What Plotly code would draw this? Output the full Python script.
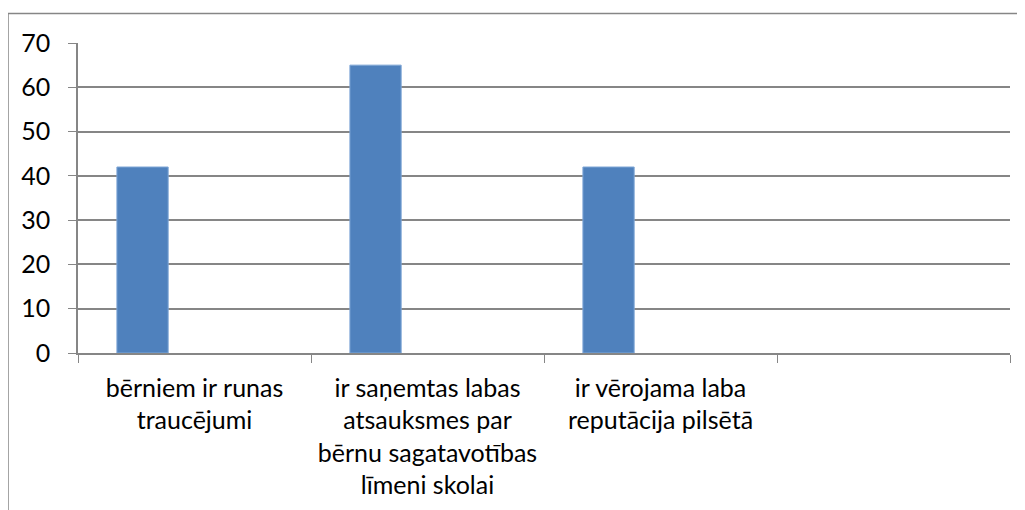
import plotly.graph_objects as go

categories = [
    "bērniem ir runas<br>traucējumi",
    "ir saņemtas labas<br>atsauksmes par<br>bērnu sagatavotības<br>līmeni skolai",
    "ir vērojama laba<br>reputācija pilsētā",
    "",
]
values = [42, 65, 42, None]
y_ticks = [0, 10, 20, 30, 40, 50, 60, 70]

# page is offset by the 8px body margin
OFF = 8
W, H = 1025, 510
L, R, T, B = 78 - OFF, 1010 - OFF, 43 - OFF, 353 - OFF
pw, ph = R - L, B - T

fig = go.Figure()
fig.add_trace(go.Bar(
    x=categories, y=values,
    marker=dict(color="#4F81BD", line=dict(color="#7FA6D6", width=1)),
    width=0.22, offset=-0.333,
    hoverinfo="x+y",
))

grid = "#868686"
font = dict(family="Lato, Liberation Sans, sans-serif", size=25, color="#000000")

fig.update_layout(
    width=W, height=H,
    margin=dict(l=L, r=W - R, t=T, b=H - B, pad=0),
    paper_bgcolor="white", plot_bgcolor="white",
    showlegend=False,
    font=font,
    xaxis=dict(
        type="category", tickson="boundaries", ticks="outside", ticklen=8,
        tickcolor=grid, showline=True, linecolor=grid, linewidth=1.5,
        showgrid=False, tickangle=0, ticklabelstandoff=12,
        range=[-0.5, 3.5],
    ),
    yaxis=dict(
        range=[0, 70], tickvals=y_ticks, ticks="outside", ticklen=8,
        tickcolor=grid, showline=True, linecolor=grid, linewidth=1.5,
        showgrid=True, gridcolor=grid, gridwidth=1.5, zeroline=False,
        ticklabelstandoff=13,
    ),
    shapes=[dict(
        type="rect", xref="paper", yref="paper",
        x0=(8 - OFF - L) / pw, x1=(1040 - L) / pw,
        y0=(B - 530) / ph, y1=(B - (13.5 - OFF)) / ph,
        line=dict(color=grid, width=1.5), fillcolor="rgba(0,0,0,0)",
        layer="below",
    )],
)

fig.write_html("out.html")
